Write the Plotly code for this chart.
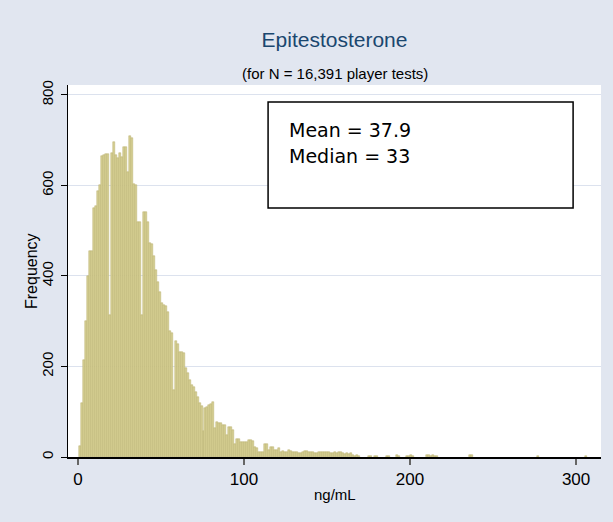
import plotly.graph_objects as go

# ---- data ----
bin_start = 0.6      # left edge of first bin (ng/mL)
bin_width = 1.2      # bin width (ng/mL)

main_counts = [
    25, 120, 215, 300, 400, 455, 455, 550, 555, 588,
    600, 665, 667, 670, 670, 314, 672, 695, 667, 660,
    671, 664, 686, 686, 630, 709, 705, 603, 601, 520,
    520, 314, 542, 542, 520, 472, 470, 444, 413, 387,
    365, 340, 336, 334, 321, 279, 275, 148, 257, 250,
    233, 233, 230, 197, 186, 170, 160, 155, 144, 133,
    120, 113, 57, 108, 110, 115, 118, 122, 64, 78,
    75, 75, 71, 71, 49, 67, 67, 60, 29, 40,
    40, 34, 34, 33, 33, 38, 38, 36, 22, 21,
    10, 10, 12, 28, 28, 15, 23, 23, 15, 15,
    19, 12, 13, 10, 10, 15, 13, 10, 10, 12,
    8, 8, 12, 14, 14, 12, 12, 12, 8, 8,
    10, 10, 10, 10, 10, 10, 8, 8, 10, 9,
    10, 10, 8, 6, 8, 7, 8, 5, 3, 5,
    3,
]
# sparse tail: bin index -> count
tail_bins = [145, 146, 148, 149, 154, 155, 159, 160, 164, 165, 166, 167,
             174, 175, 176, 177, 178, 179, 196, 197, 230, 254]
tail_counts = [3, 3, 2, 2, 3, 3, 4, 3, 3, 3, 4, 3,
               4, 4, 3, 4, 3, 3, 4, 4, 3, 3]

title_text = "Epitestosterone"
subtitle_text = "(for N = 16,391 player tests)"
stats_lines = ["Mean = 37.9", "Median = 33"]
x_title = "ng/mL"
y_title = "Frequency"
y_ticks = [0, 200, 400, 600, 800]
x_ticks = [0, 100, 200, 300]

# ---- build bins ----
bin_idx = list(range(len(main_counts))) + tail_bins
counts = main_counts + tail_counts
centers = [bin_start + bin_width * (i + 0.5) for i in bin_idx]

FONT = "Liberation Sans, Arial, sans-serif"
BOXFONT = "DejaVu Sans, Verdana, sans-serif"
BG = "#E1E6F0"

fig = go.Figure()
fig.add_trace(go.Bar(
    x=centers, y=counts, width=[bin_width] * len(counts),
    marker=dict(color="#D5CE93", line=dict(color="#B9B06E", width=0.5)),
    hoverinfo="x+y", showlegend=False,
))

# stats box
fig.add_shape(type="rect", xref="x", yref="y",
              x0=114.5, x1=298.2, y0=550, y1=784.5,
              line=dict(color="black", width=1.5), fillcolor="white", layer="above")
fig.add_annotation(x=125.8, y=722, xref="x", yref="y", text=stats_lines[0],
                   showarrow=False, xanchor="left", yanchor="middle",
                   font=dict(family=BOXFONT, size=19, color="black"))
fig.add_annotation(x=125.8, y=665, xref="x", yref="y", text=stats_lines[1],
                   showarrow=False, xanchor="left", yanchor="middle",
                   font=dict(family=BOXFONT, size=19, color="black"))

# subtitle
fig.add_annotation(x=0.5, y=(457 - 73) / 372, xref="paper", yref="paper", text=subtitle_text,
                   showarrow=False, xanchor="center", yanchor="middle",
                   font=dict(family=FONT, size=15, color="black"))
# axis titles
fig.add_annotation(x=(31 - 68) / 533, y=0.5, xref="paper", yref="paper", text=y_title,
                   textangle=-90, showarrow=False, xanchor="center", yanchor="middle",
                   font=dict(family=FONT, size=16, color="black"))
fig.add_annotation(x=0.5, y=(457 - 495) / 372, xref="paper", yref="paper", text=x_title,
                   showarrow=False, xanchor="center", yanchor="middle",
                   font=dict(family=FONT, size=15, color="black"))

fig.update_layout(
    width=613, height=522,
    margin=dict(l=68, r=12, t=85, b=65),
    paper_bgcolor=BG, plot_bgcolor="white",
    font=dict(family=FONT, color="black"),
    title=dict(text=title_text, x=0.5, xref="paper", y=1 - 40 / 522, yref="container",
               xanchor="center", yanchor="middle",
               font=dict(family=FONT, size=21, color="#1A476F")),
    bargap=0,
    xaxis=dict(range=[-6.0, 315], tickvals=x_ticks, ticks="outside", ticklen=6,
               tickcolor="#666666", tickwidth=1.5,
               showline=True, linecolor="black", linewidth=1.5,
               showgrid=False, zeroline=False,
               tickfont=dict(family=FONT, size=17, color="black")),
    yaxis=dict(range=[0, 822], tickvals=y_ticks, ticks="outside", ticklen=6,
               tickcolor="black", tickwidth=1,
               showline=True, linecolor="black", linewidth=1,
               showgrid=True, gridcolor="#DCE2EE", gridwidth=1,
               zeroline=False, tickangle=-90, ticklabelstandoff=2,
               tickfont=dict(family=FONT, size=15, color="black")),
)

fig.write_html("out.html")
